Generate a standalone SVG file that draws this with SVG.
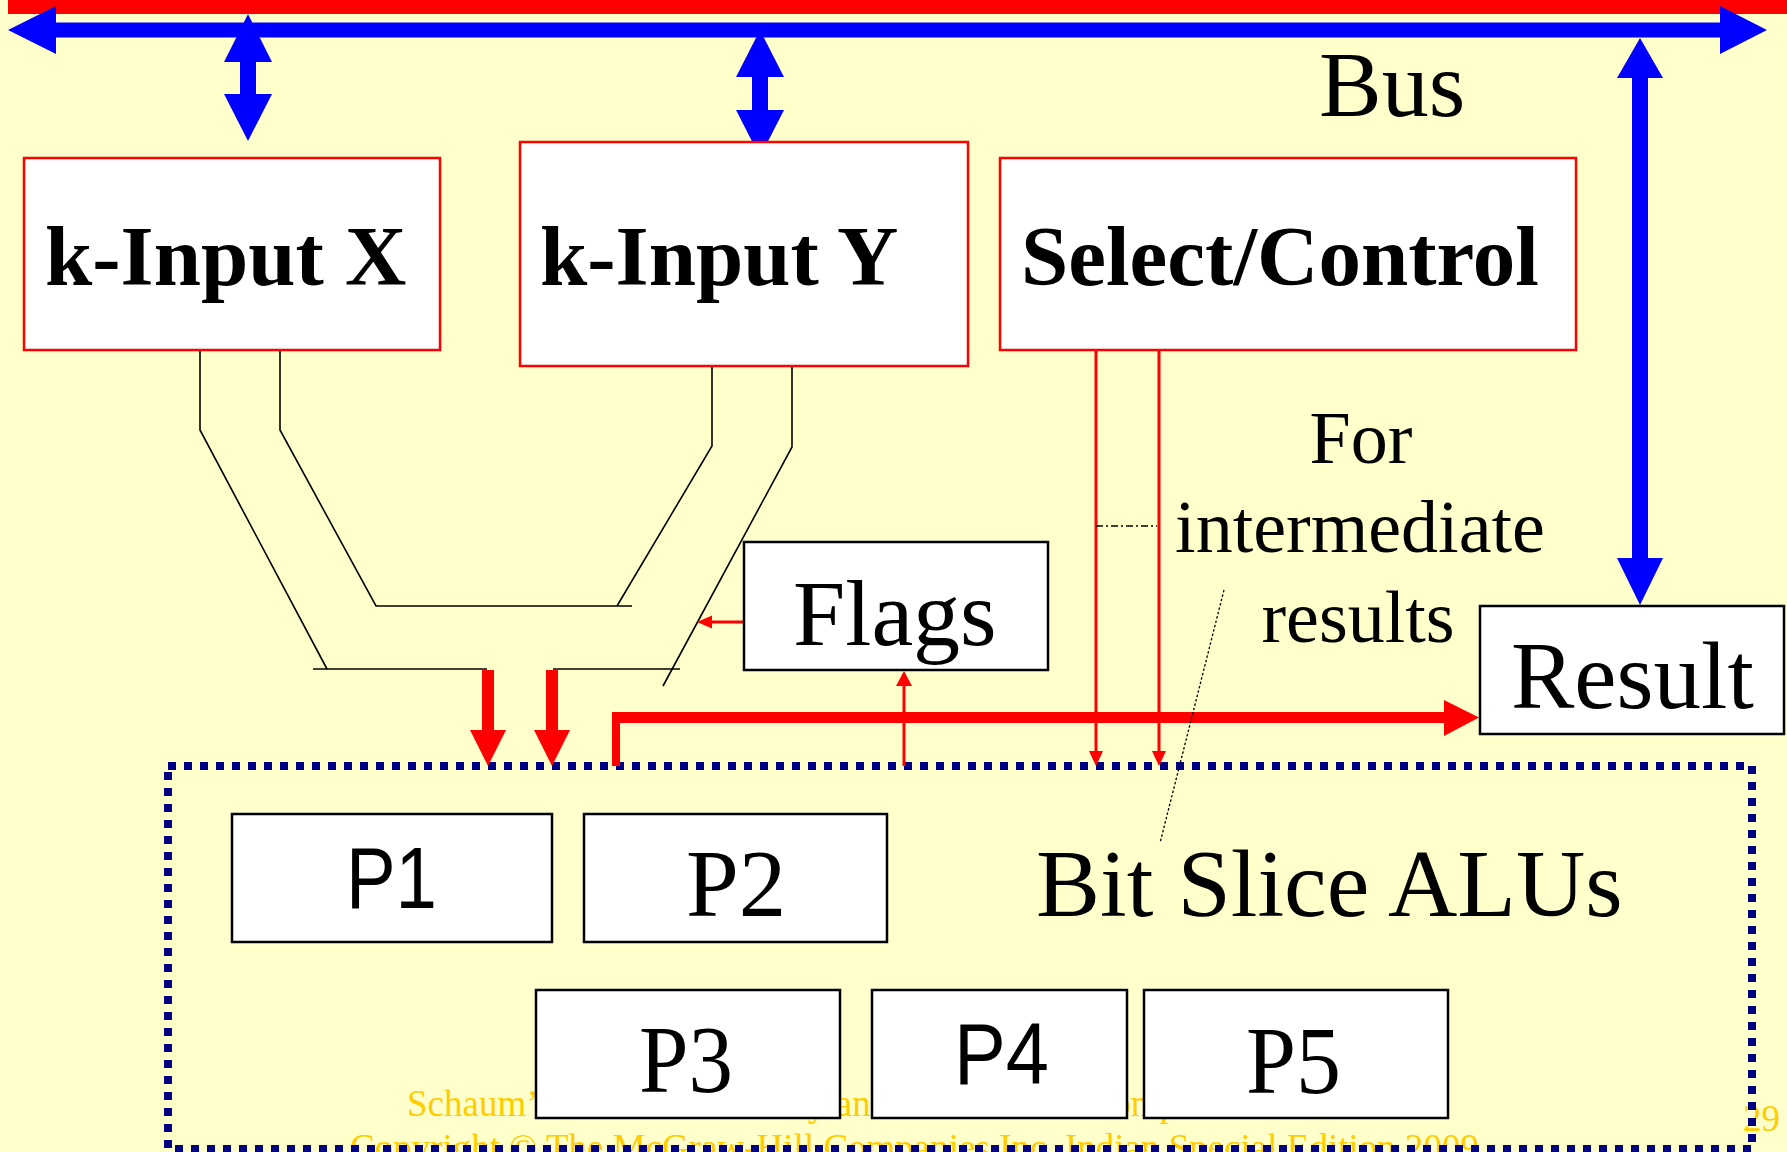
<svg xmlns="http://www.w3.org/2000/svg" width="1787" height="1152" viewBox="0 0 1787 1152">
  <defs>
    <style>
      .serif { font-family: "Liberation Serif", "Times New Roman", serif; fill: #000; }
      .bold { font-weight: bold; font-size: 85px; }
      .sans { font-family: "Liberation Sans", Arial, sans-serif; fill: #000; }
      .foot { font-family: "Liberation Serif", "Times New Roman", serif; fill: #FFCC00; font-size: 37px; }
      .note { font-size: 74px; text-anchor: middle; }
      .redbox { fill: #fff; stroke: #f00; stroke-width: 2.5; }
      .blkbox { fill: #fff; stroke: #000; stroke-width: 2.5; }
      .wire { fill: none; stroke: #000; stroke-width: 1.6; }
      .ctl { fill: none; stroke: #f00; stroke-width: 3; }
      .red { fill: #f00; }
      .blue { fill: #00f; }
    </style>
  </defs>

  <!-- slide background -->
  <rect x="0" y="0" width="1787" height="1152" fill="#FFFFCC"/>

  <!-- footer (sits behind the diagram) -->
  <g id="footer">
    <text class="foot" x="407" y="1116">Schaum’s Outline of Theory and Problems of Computer Architecture</text>
    <text class="foot" x="350" y="1160">Copyright © The McGraw-Hill Companies Inc. Indian Special Edition 2009</text>
    <text class="foot" x="1743" y="1131">29</text>
  </g>

  <!-- system bus: red control line and blue data bus -->
  <g id="bus">
    <rect class="red" x="8" y="0" width="1779" height="14"/>
    <polygon class="blue" points="8,30 56,6 56,22.5 1720,22.5 1720,6 1767,30 1720,54 1720,37.5 56,37.5 56,54"/>
    <text class="serif" x="1319" y="116" font-size="94">Bus</text>
  </g>

  <!-- bit slice ALU enclosure -->
  <g id="alu-group">
    <rect x="168" y="766" width="1584" height="383" fill="none" stroke="#000080" stroke-width="8" stroke-dasharray="8 8"/>
    <text class="serif" x="1036" y="916" font-size="96">Bit Slice ALUs</text>
  </g>

  <g id="connectors">
    <!-- bus <-> registers -->
    <polygon class="blue" points="248,14 272,62 256,62 256,94 272,94 248,141 224,94 240,94 240,62 224,62"/>
    <polygon class="blue" points="760,30 784,77 768,77 768,110 784,110 760,157 736,110 752,110 752,77 736,77"/>
    <polygon class="blue" points="1640,38 1663,78 1648,78 1648,558 1663,558 1640,605 1617,558 1632,558 1632,78 1617,78"/>

    <!-- operand paths from X and Y -->
    <polyline class="wire" points="200,350 200,430 327,669"/>
    <line class="wire" x1="313" y1="669" x2="487" y2="669"/>
    <polyline class="wire" points="280,350 280,430 376,606 632,606"/>
    <polyline class="wire" points="712,366 712,446 617,606"/>
    <polyline class="wire" points="792,366 792,447 663,686"/>
    <line class="wire" x1="553" y1="669" x2="680" y2="669"/>

    <!-- operands into the ALUs -->
    <rect class="red" x="482" y="670" width="12" height="61"/>
    <polygon class="red" points="470,730 506,730 488,766"/>
    <rect class="red" x="546" y="670" width="12" height="61"/>
    <polygon class="red" points="534,730 570,730 552,766"/>

    <!-- ALU output to Result -->
    <line x1="616" y1="766" x2="616" y2="718" stroke="#f00" stroke-width="8"/>
    <line x1="612" y1="717.5" x2="1445" y2="717.5" stroke="#f00" stroke-width="11"/>
    <polygon class="red" points="1444,700 1479,717.5 1444,736"/>

    <!-- select/control lines -->
    <line class="ctl" x1="1096" y1="350" x2="1096" y2="752"/>
    <polygon class="red" points="1089,751 1103,751 1096,766"/>
    <line class="ctl" x1="1159" y1="350" x2="1159" y2="752"/>
    <polygon class="red" points="1152,751 1166,751 1159,766"/>

    <!-- flags -->
    <line class="ctl" x1="904" y1="766" x2="904" y2="685"/>
    <polygon class="red" points="896,686 904,671 912,686"/>
    <line class="ctl" x1="744" y1="622" x2="711" y2="622"/>
    <polygon class="red" points="712,615.5 697,622 712,628.5"/>

    <!-- annotation leaders -->
    <line x1="1096" y1="526" x2="1157" y2="526" stroke="#000" stroke-width="1.3" stroke-dasharray="7 3 2 3"/>
    <line x1="1224" y1="590" x2="1160" y2="843" stroke="#000" stroke-width="1.3" stroke-dasharray="2.5 2"/>
  </g>

  <g id="input-x">
    <rect class="redbox" x="24" y="158" width="416" height="192"/>
    <text class="serif bold" x="45" y="285">k-Input X</text>
  </g>

  <g id="input-y">
    <rect class="redbox" x="520" y="142" width="448" height="224"/>
    <text class="serif bold" x="540" y="285">k-Input Y</text>
  </g>

  <g id="select-control">
    <rect class="redbox" x="1000" y="158" width="576" height="192"/>
    <text class="serif bold" x="1021" y="285">Select/Control</text>
  </g>

  <g id="note">
    <text class="serif note" x="1361" y="463">For</text>
    <text class="serif note" x="1360" y="552">intermediate</text>
    <text class="serif note" x="1358" y="642">results</text>
  </g>

  <g id="flags">
    <rect class="blkbox" x="744" y="542" width="304" height="128"/>
    <text class="serif" x="793" y="645" font-size="94">Flags</text>
  </g>

  <g id="result">
    <rect class="blkbox" x="1480" y="606" width="304" height="128"/>
    <text class="serif" x="1511" y="708" font-size="95">Result</text>
  </g>

  <!-- the bit slices -->
  <g id="p1">
    <rect class="blkbox" x="232" y="814" width="320" height="128"/>
    <text class="sans" x="346" y="908" font-size="87" textLength="91" lengthAdjust="spacingAndGlyphs">P1</text>
  </g>
  <g id="p2">
    <rect class="blkbox" x="584" y="814" width="303" height="128"/>
    <text class="serif" x="686" y="916" font-size="95">P2</text>
  </g>
  <g id="p3">
    <rect class="blkbox" x="536" y="990" width="304" height="128"/>
    <text class="serif" x="639" y="1092" font-size="95" textLength="94" lengthAdjust="spacingAndGlyphs">P3</text>
  </g>
  <g id="p4">
    <rect class="blkbox" x="872" y="990" width="255" height="128"/>
    <text class="sans" x="954" y="1084" font-size="87" textLength="95" lengthAdjust="spacingAndGlyphs">P4</text>
  </g>
  <g id="p5">
    <rect class="blkbox" x="1144" y="990" width="304" height="128"/>
    <text class="serif" x="1246" y="1093" font-size="95" textLength="95" lengthAdjust="spacingAndGlyphs">P5</text>
  </g>
</svg>
